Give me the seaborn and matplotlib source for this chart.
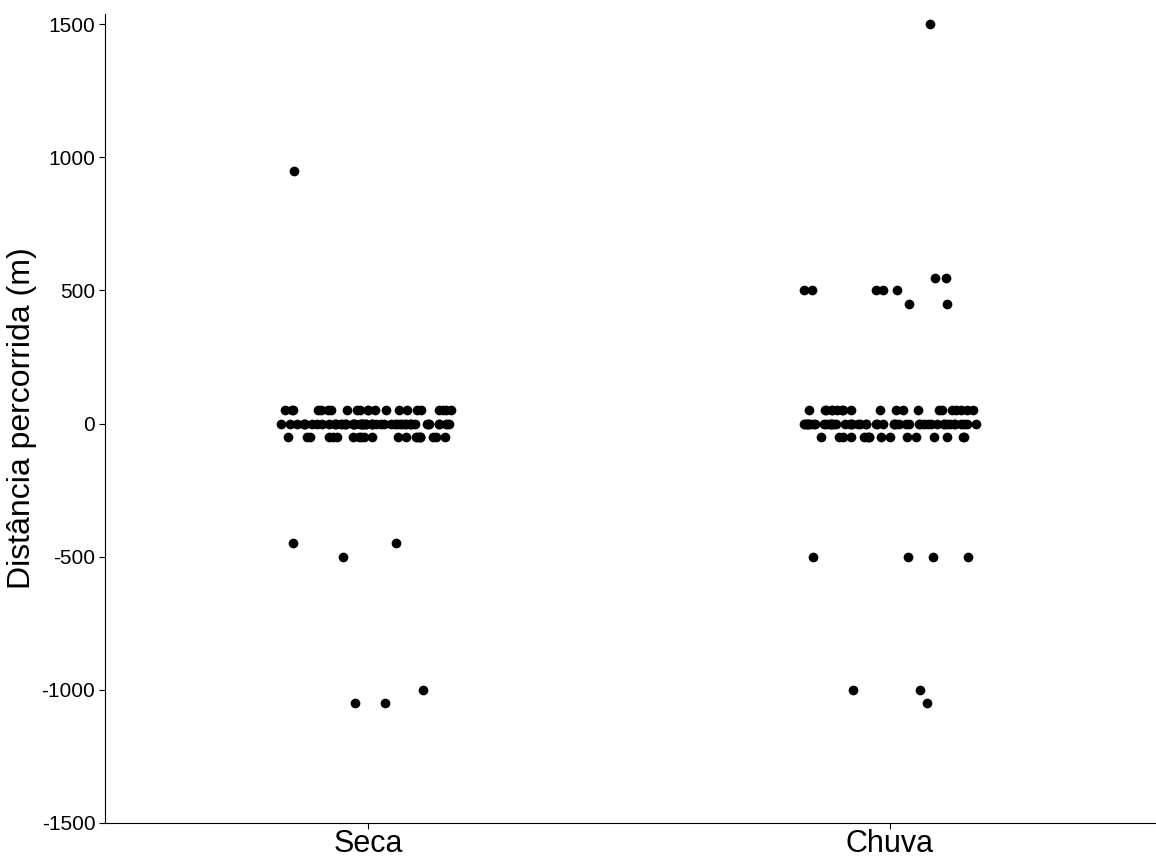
import numpy as np
import pandas as pd
import matplotlib
matplotlib.use("Agg")
import matplotlib.pyplot as plt
import seaborn as sns

# Data: distance values and how many observations share each value
categories = ["Seca", "Chuva"]
seca_values = [950, 50, 0, -50, -450, -500, -1000, -1050]
seca_counts = [1, 22, 55, 21, 2, 1, 1, 2]
chuva_values = [1500, 545, 500, 450, 50, 0, -50, -500, -1000, -1050]
chuva_counts = [1, 2, 5, 2, 20, 50, 16, 4, 2, 1]
y_ticks = [-1500, -1000, -500, 0, 500, 1000, 1500]

rows = []
for v, c in zip(seca_values, seca_counts):
    rows += [("Seca", v)] * c
for v, c in zip(chuva_values, chuva_counts):
    rows += [("Chuva", v)] * c
df = pd.DataFrame(rows, columns=["grupo", "dist"])

sns.set_theme(style="white")
plt.rcParams["font.family"] = ["Liberation Sans", "DejaVu Sans"]

fig = plt.figure(figsize=(11.56, 8.57), dpi=100)
ax = fig.add_axes([105 / 1156, (857 - 823) / 857, (1156 - 105) / 1156, (823 - 14) / 857])

np.random.seed(7)
sns.stripplot(data=df, x="grupo", y="dist", order=categories, jitter=0.167,
              color="black", size=7, linewidth=0, ax=ax)

ax.set_xlim(-0.504, 1.51)
ax.set_ylim(-1500, 1538)
ax.set_yticks(y_ticks)
ax.set_yticklabels([str(t) for t in y_ticks], fontsize=15, color="black")
ax.tick_params(axis="x", labelsize=22, length=4, width=0.8, color="black",
               labelcolor="black", pad=0, bottom=True)
ax.tick_params(axis="y", length=4, width=0.8, color="black", left=True, pad=3)
ax.set_xlabel("")
ax.set_ylabel("Distância percorrida (m)", fontsize=23, labelpad=3, color="black")
for s in ["top", "right"]:
    ax.spines[s].set_visible(False)
for s in ["left", "bottom"]:
    ax.spines[s].set_color("black")
    ax.spines[s].set_linewidth(0.8)

fig.savefig("out.png", dpi=100, facecolor="white")
